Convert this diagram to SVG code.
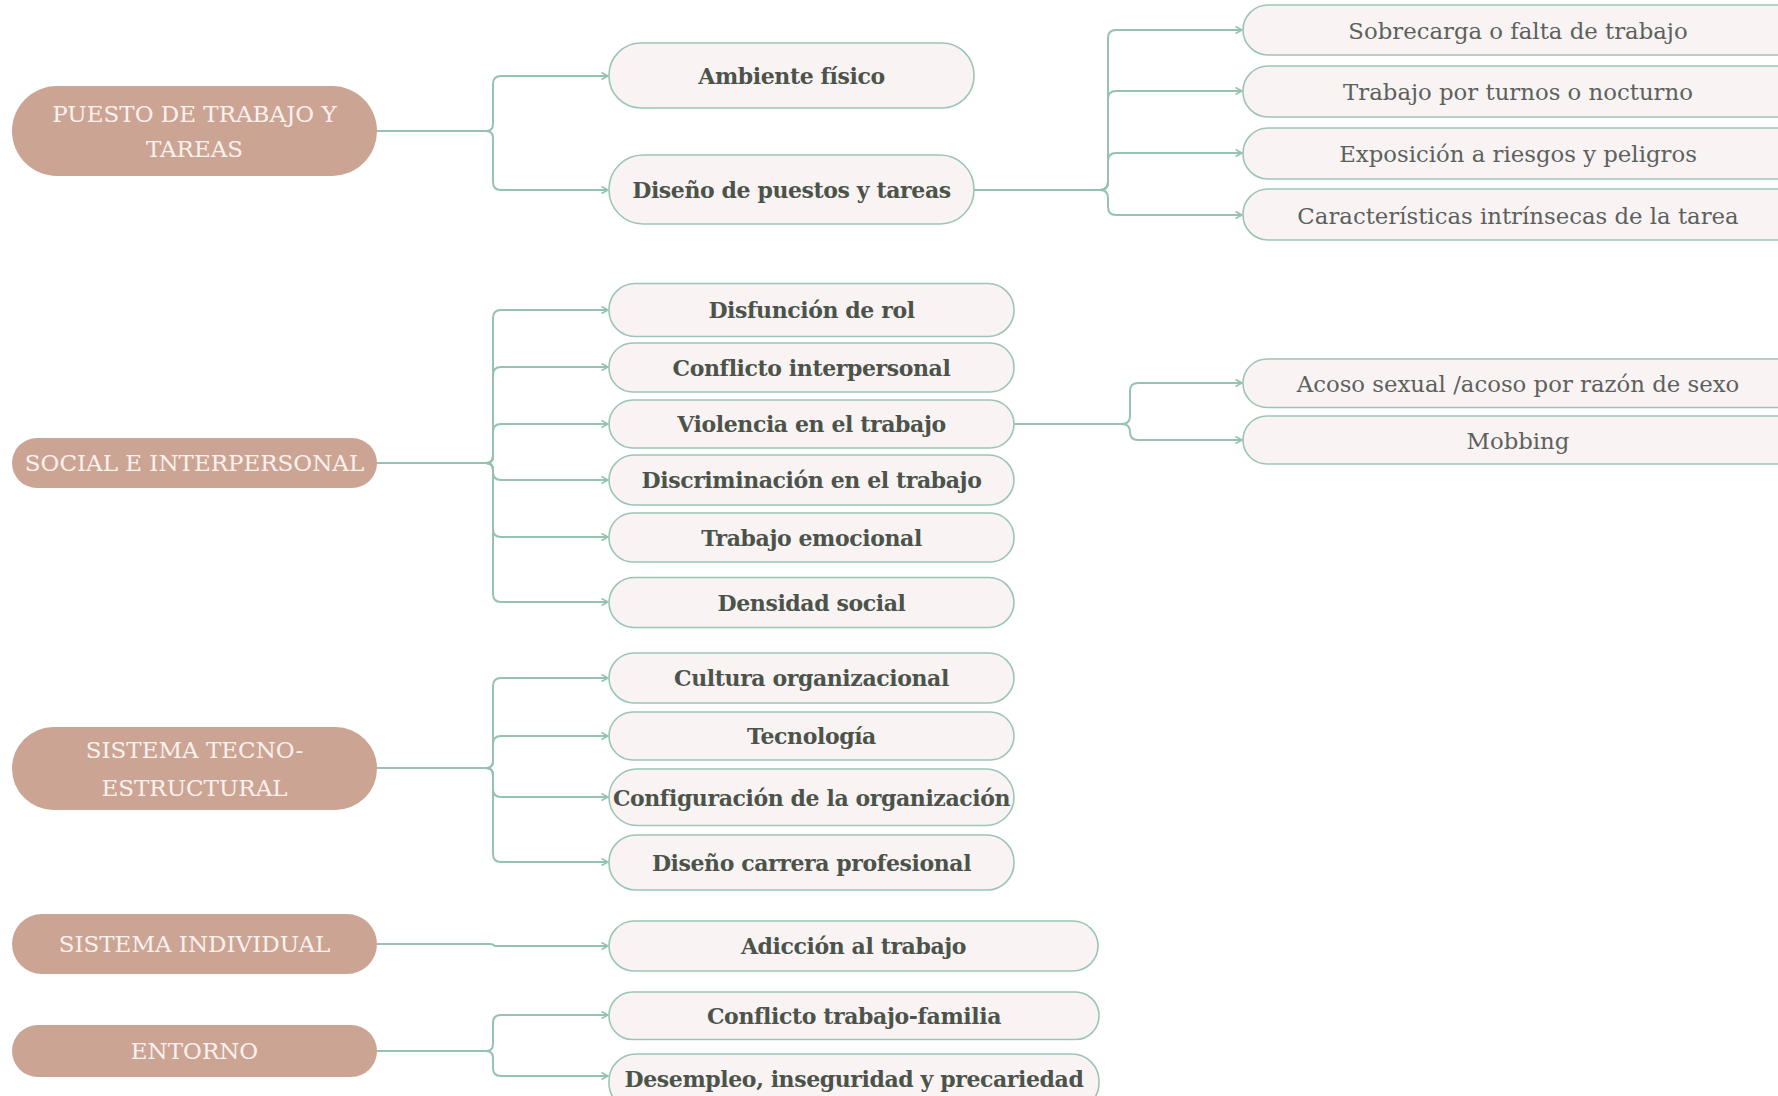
<svg xmlns="http://www.w3.org/2000/svg" width="1778" height="1096" viewBox="0 0 1778 1096">
<style>
.root rect{fill:#CCA493;}
.root text{fill:#FBF1EF;font-family:"DejaVu Serif","Liberation Serif",serif;font-size:23px;text-anchor:middle;}
.child rect{fill:#F9F3F4;stroke:#9CC5B5;stroke-width:1.6;}
.child text{fill:#4B534A;font-family:"DejaVu Serif","Liberation Serif",serif;font-size:22px;letter-spacing:-0.4px;font-weight:bold;text-anchor:middle;}
.leaf rect{fill:#F9F3F4;stroke:#9CC5B5;stroke-width:1.6;}
.leaf text{fill:#5C615D;font-family:"DejaVu Serif","Liberation Serif",serif;font-size:22.8px;text-anchor:middle;}
#connectors path{fill:none;stroke:#96C2B0;stroke-width:2;marker-end:url(#arr);}
#connectors path.trunk{marker-end:none;}
</style>
<defs>
<marker id="arr" markerUnits="userSpaceOnUse" markerWidth="10" markerHeight="10" refX="7" refY="4" orient="auto">
<path d="M0.5,0.5 L7,4 L0.5,7.5" fill="none" stroke="#96C2B0" stroke-width="1.6"/>
</marker>
</defs>
<rect width="1778" height="1096" fill="#FFFFFF"/>

<g id="connectors">
<path class="trunk" d="M377,131 H486"/>
<path d="M486,131 Q493,131 493,124 V84 Q493,76 501,76 H608"/>
<path d="M486,131 Q493,131 493,138 V182 Q493,190 501,190 H608"/>
<path class="trunk" d="M974,190 H1100"/>
<path d="M1100,190 Q1108,190 1108,182 V38 Q1108,30 1116,30 H1242"/>
<path d="M1100,190 Q1108,190 1108,182 V99 Q1108,91 1116,91 H1242"/>
<path d="M1100,190 Q1108,190 1108,182 V161 Q1108,153 1116,153 H1242"/>
<path d="M1100,190 Q1108,190 1108,198 V207 Q1108,215 1116,215 H1242"/>

<path class="trunk" d="M377,463 H486"/>
<path d="M486,463 Q493,463 493,456 V318 Q493,310 501,310 H608"/>
<path d="M486,463 Q493,463 493,456 V375 Q493,367 501,367 H608"/>
<path d="M486,463 Q493,463 493,456 V432 Q493,424 501,424 H608"/>
<path d="M486,463 Q493,463 493,470 V472 Q493,480 501,480 H608"/>
<path d="M486,463 Q493,463 493,470 V529 Q493,537 501,537 H608"/>
<path d="M486,463 Q493,463 493,470 V594 Q493,602 501,602 H608"/>
<path class="trunk" d="M1014,424 H1122"/>
<path d="M1122,424 Q1130,424 1130,416 V391 Q1130,383 1138,383 H1242"/>
<path d="M1122,424 Q1130,424 1130,432 Q1130,440 1138,440 H1242"/>

<path class="trunk" d="M377,768 H486"/>
<path d="M486,768 Q493,768 493,761 V686 Q493,678 501,678 H608"/>
<path d="M486,768 Q493,768 493,761 V744 Q493,736 501,736 H608"/>
<path d="M486,768 Q493,768 493,775 V789 Q493,797 501,797 H608"/>
<path d="M486,768 Q493,768 493,775 V854 Q493,862 501,862 H608"/>

<path d="M377,944 H490 Q493,944 495,946 H608"/>

<path class="trunk" d="M377,1051 H486"/>
<path d="M486,1051 Q493,1051 493,1044 V1023 Q493,1015 501,1015 H608"/>
<path d="M486,1051 Q493,1051 493,1058 V1068 Q493,1076 501,1076 H608"/>
</g>

<g id="root-puesto" class="root"><rect x="12" y="86" width="365" height="90" rx="45"/><text x="194.5" y="122">PUESTO DE TRABAJO Y</text><text x="194.5" y="157">TAREAS</text></g>
<g id="root-social" class="root"><rect x="12" y="438" width="365" height="50" rx="25"/><text x="194.5" y="471">SOCIAL E INTERPERSONAL</text></g>
<g id="root-tecno" class="root"><rect x="12" y="727" width="365" height="83" rx="41.5"/><text x="194.5" y="758">SISTEMA TECNO-</text><text x="194.5" y="796">ESTRUCTURAL</text></g>
<g id="root-individual" class="root"><rect x="12" y="914" width="365" height="60" rx="30"/><text x="194.5" y="952">SISTEMA INDIVIDUAL</text></g>
<g id="root-entorno" class="root"><rect x="12" y="1025" width="365" height="52" rx="26"/><text x="194.5" y="1059">ENTORNO</text></g>

<g id="n-ambiente" class="child"><rect x="609" y="43" width="365" height="65" rx="32"/><text x="791.5" y="83.5">Ambiente físico</text></g>
<g id="n-diseno-puestos" class="child"><rect x="609" y="155" width="365" height="69" rx="34"/><text x="791.5" y="197.5">Diseño de puestos y tareas</text></g>

<g id="n-sobrecarga" class="leaf"><rect x="1243" y="5" width="560" height="50" rx="25"/><text x="1518" y="38.5">Sobrecarga o falta de trabajo</text></g>
<g id="n-turnos" class="leaf"><rect x="1243" y="66" width="560" height="51" rx="25"/><text x="1518" y="100">Trabajo por turnos o nocturno</text></g>
<g id="n-exposicion" class="leaf"><rect x="1243" y="128" width="560" height="51" rx="25"/><text x="1518" y="162">Exposición a riesgos y peligros</text></g>
<g id="n-caracteristicas" class="leaf"><rect x="1243" y="189" width="560" height="51" rx="25"/><text x="1518" y="224">Características intrínsecas de la tarea</text></g>

<g id="n-disfuncion" class="child"><rect x="609" y="283.5" width="405" height="53" rx="26"/><text x="811.5" y="318">Disfunción de rol</text></g>
<g id="n-conflicto-inter" class="child"><rect x="609" y="343" width="405" height="49" rx="24"/><text x="811.5" y="375.5">Conflicto interpersonal</text></g>
<g id="n-violencia" class="child"><rect x="609" y="400" width="405" height="48" rx="24"/><text x="811.5" y="432">Violencia en el trabajo</text></g>
<g id="n-discriminacion" class="child"><rect x="609" y="455" width="405" height="50" rx="25"/><text x="811.5" y="488">Discriminación en el trabajo</text></g>
<g id="n-emocional" class="child"><rect x="609" y="513" width="405" height="49" rx="24"/><text x="811.5" y="545.5">Trabajo emocional</text></g>
<g id="n-densidad" class="child"><rect x="609" y="577.5" width="405" height="50" rx="25"/><text x="811.5" y="610.5">Densidad social</text></g>

<g id="n-acoso" class="leaf"><rect x="1243" y="359" width="560" height="48.5" rx="24"/><text x="1518" y="392">Acoso sexual /acoso por razón de sexo</text></g>
<g id="n-mobbing" class="leaf"><rect x="1243" y="416" width="560" height="48" rx="24"/><text x="1518" y="448.5">Mobbing</text></g>

<g id="n-cultura" class="child"><rect x="609" y="653" width="405" height="50" rx="25"/><text x="811.5" y="686">Cultura organizacional</text></g>
<g id="n-tecnologia" class="child"><rect x="609" y="712" width="405" height="48" rx="24"/><text x="811.5" y="744">Tecnología</text></g>
<g id="n-configuracion" class="child"><rect x="609" y="769" width="405" height="56.5" rx="28"/><text x="811.5" y="805.5">Configuración de la organización</text></g>
<g id="n-carrera" class="child"><rect x="609" y="835" width="405" height="55" rx="27"/><text x="811.5" y="870.5">Diseño carrera profesional</text></g>

<g id="n-adiccion" class="child"><rect x="609" y="921" width="489" height="50" rx="25"/><text x="853.5" y="954">Adicción al trabajo</text></g>
<g id="n-conflicto-tf" class="child"><rect x="609" y="992" width="490" height="47.5" rx="23.5"/><text x="854" y="1023.5">Conflicto trabajo-familia</text></g>
<g id="n-desempleo" class="child"><rect x="609" y="1054" width="490" height="56" rx="27"/><text x="854" y="1087">Desempleo, inseguridad y precariedad</text></g>
</svg>
